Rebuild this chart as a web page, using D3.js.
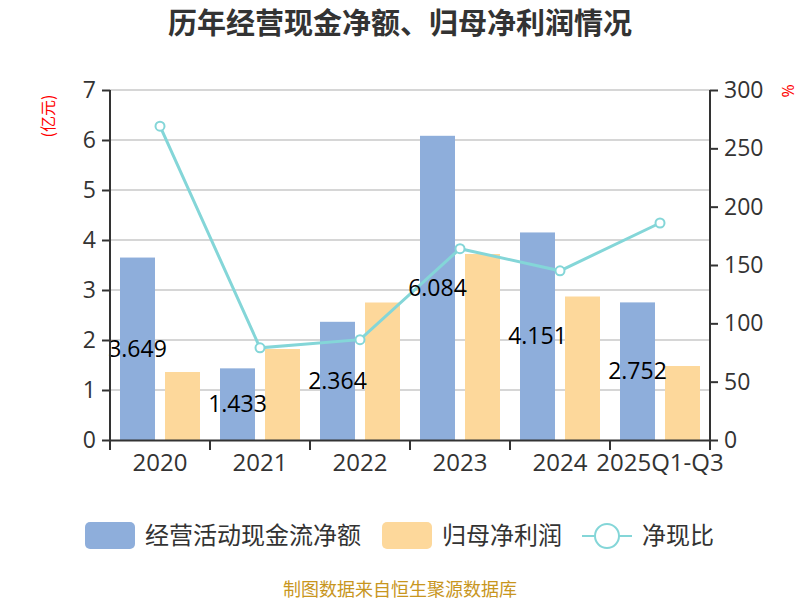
<!DOCTYPE html>
<html>
<head>
<meta charset="utf-8">
<script src="https://cdn.jsdelivr.net/npm/d3@7/dist/d3.min.js"></script>
<style>
  body { margin: 0; background: #fff; }
  svg { font-family: "Open Sans", "Noto Sans CJK SC", sans-serif; }
</style>
</head>
<body>
<svg id="chart" width="800" height="600"></svg>
<script>
// chart data
var years = ["2020", "2021", "2022", "2023", "2024", "2025Q1-Q3"];
var cashFlow = [3.649, 1.433, 2.364, 6.084, 4.151, 2.752];
var netProfit = [1.36, 1.82, 2.75, 3.72, 2.87, 1.48];
var cashRatio = [269, 79, 86, 164, 145, 186];
var leftTicks = [0, 1, 2, 3, 4, 5, 6, 7];
var rightTicks = [0, 50, 100, 150, 200, 250, 300];

var svg = d3.select("#chart");
var cjk = "'Noto Sans CJK SC', sans-serif";

// scales
var x = d3.scaleBand().domain(years).range([110, 710]);
var y = d3.scaleLinear().domain([0, 7]).range([440, 90]);
var y2 = d3.scaleLinear().domain([0, 300]).range([440, 90]);

// title
svg.append("text")
  .attr("x", 400).attr("y", 34)
  .attr("text-anchor", "middle")
  .style("font-family", cjk)
  .style("font-size", "29px").style("font-weight", "bold")
  .style("fill", "#333")
  .text("历年经营现金净额、归母净利润情况");

// grid lines
svg.append("g").selectAll("line")
  .data(leftTicks.slice(1))
  .enter().append("line")
  .attr("x1", 110).attr("x2", 710)
  .attr("y1", function(d) { return y(d); })
  .attr("y2", function(d) { return y(d); })
  .style("stroke", "#c8c8c8").style("stroke-width", 1.5);

// bars
var bars = svg.append("g");
bars.selectAll(".cf")
  .data(cashFlow)
  .enter().append("rect")
  .attr("x", function(d, i) { return x(years[i]) + 10; })
  .attr("y", function(d) { return y(d); })
  .attr("width", 35)
  .attr("height", function(d) { return y(0) - y(d); })
  .style("fill", "#8eaedb");

bars.selectAll(".np")
  .data(netProfit)
  .enter().append("rect")
  .attr("x", function(d, i) { return x(years[i]) + 55; })
  .attr("y", function(d) { return y(d); })
  .attr("width", 35)
  .attr("height", function(d) { return y(0) - y(d); })
  .style("fill", "#fdd89b");

// line
var line = d3.line()
  .x(function(d, i) { return x(years[i]) + x.bandwidth() / 2; })
  .y(function(d) { return y2(d); });

svg.append("path")
  .datum(cashRatio)
  .attr("d", line)
  .style("fill", "none")
  .style("stroke", "#84d6d8")
  .style("stroke-width", 3);

svg.append("g").selectAll("circle")
  .data(cashRatio)
  .enter().append("circle")
  .attr("cx", function(d, i) { return x(years[i]) + x.bandwidth() / 2; })
  .attr("cy", function(d) { return y2(d); })
  .attr("r", 4.5)
  .style("fill", "#fff")
  .style("stroke", "#84d6d8")
  .style("stroke-width", 2);

// value labels
svg.append("g").selectAll("text")
  .data(cashFlow)
  .enter().append("text")
  .attr("x", function(d, i) { return x(years[i]) + 27.5; })
  .attr("y", function(d) { return (y(d) + y(0)) / 2; })
  .attr("dy", "0.35em")
  .attr("text-anchor", "middle")
  .style("font-size", "23px")
  .style("fill", "#000")
  .text(function(d) { return d3.format(".3f")(d); });

// axes
var leftAxis = svg.append("g")
  .attr("transform", "translate(110,0)")
  .call(d3.axisLeft(y).tickValues(leftTicks).tickFormat(d3.format("d")).tickSize(8).tickPadding(6));

var rightAxis = svg.append("g")
  .attr("transform", "translate(710,0)")
  .call(d3.axisRight(y2).tickValues(rightTicks).tickSize(8).tickPadding(6));

var bottomAxis = svg.append("g")
  .attr("transform", "translate(0,440)")
  .call(d3.axisBottom(x).tickSize(0).tickPadding(14));

// ticks at band boundaries on the x axis
svg.append("g").selectAll("line")
  .data(years.concat(["end"]))
  .enter().append("line")
  .attr("x1", function(d, i) { return 110 + i * x.bandwidth(); })
  .attr("x2", function(d, i) { return 110 + i * x.bandwidth(); })
  .attr("y1", 440).attr("y2", 450)
  .style("stroke", "#333").style("stroke-width", 2);

[leftAxis, rightAxis, bottomAxis].forEach(function(g) {
  g.select(".domain").style("stroke", "#333").style("stroke-width", 2);
  g.selectAll(".tick line").style("stroke", "#333").style("stroke-width", 2);
  g.selectAll("text").style("font-size", "23px").style("fill", "#333")
    .style("font-family", "'Open Sans', sans-serif");
});
bottomAxis.selectAll("text").style("font-size", "24px");
leftAxis.select(".domain").attr("d", "M0,90V450");
rightAxis.select(".domain").attr("d", "M0,90V440");

// axis units
svg.append("text")
  .attr("transform", "translate(54,116) rotate(-90)")
  .attr("text-anchor", "middle")
  .style("font-family", cjk)
  .style("font-size", "16px").style("fill", "#f00")
  .text("(亿元)");

svg.append("text")
  .attr("transform", "translate(794,91) rotate(-90)")
  .attr("text-anchor", "middle")
  .style("font-size", "16px").style("fill", "#f00")
  .text("%");

// legend
var legend = svg.append("g").style("font-family", cjk);
legend.append("rect")
  .attr("x", 85).attr("y", 522).attr("width", 50).attr("height", 27).attr("rx", 5)
  .style("fill", "#8eaedb");
legend.append("text").attr("x", 145).attr("y", 544)
  .style("font-size", "24px").style("fill", "#333").text("经营活动现金流净额");
legend.append("rect")
  .attr("x", 382).attr("y", 522).attr("width", 50).attr("height", 27).attr("rx", 5)
  .style("fill", "#fdd89b");
legend.append("text").attr("x", 442).attr("y", 544)
  .style("font-size", "24px").style("fill", "#333").text("归母净利润");
legend.append("line")
  .attr("x1", 582).attr("x2", 632).attr("y1", 536).attr("y2", 536)
  .style("stroke", "#84d6d8").style("stroke-width", 2);
legend.append("circle")
  .attr("cx", 607).attr("cy", 536).attr("r", 12)
  .style("fill", "#fff").style("stroke", "#84d6d8").style("stroke-width", 2);
legend.append("text").attr("x", 642).attr("y", 544)
  .style("font-size", "24px").style("fill", "#333").text("净现比");

// source note
svg.append("text")
  .attr("x", 400).attr("y", 596)
  .attr("text-anchor", "middle")
  .style("font-family", cjk)
  .style("font-size", "18px").style("fill", "#c8961e")
  .text("制图数据来自恒生聚源数据库");
</script>
</body>
</html>
